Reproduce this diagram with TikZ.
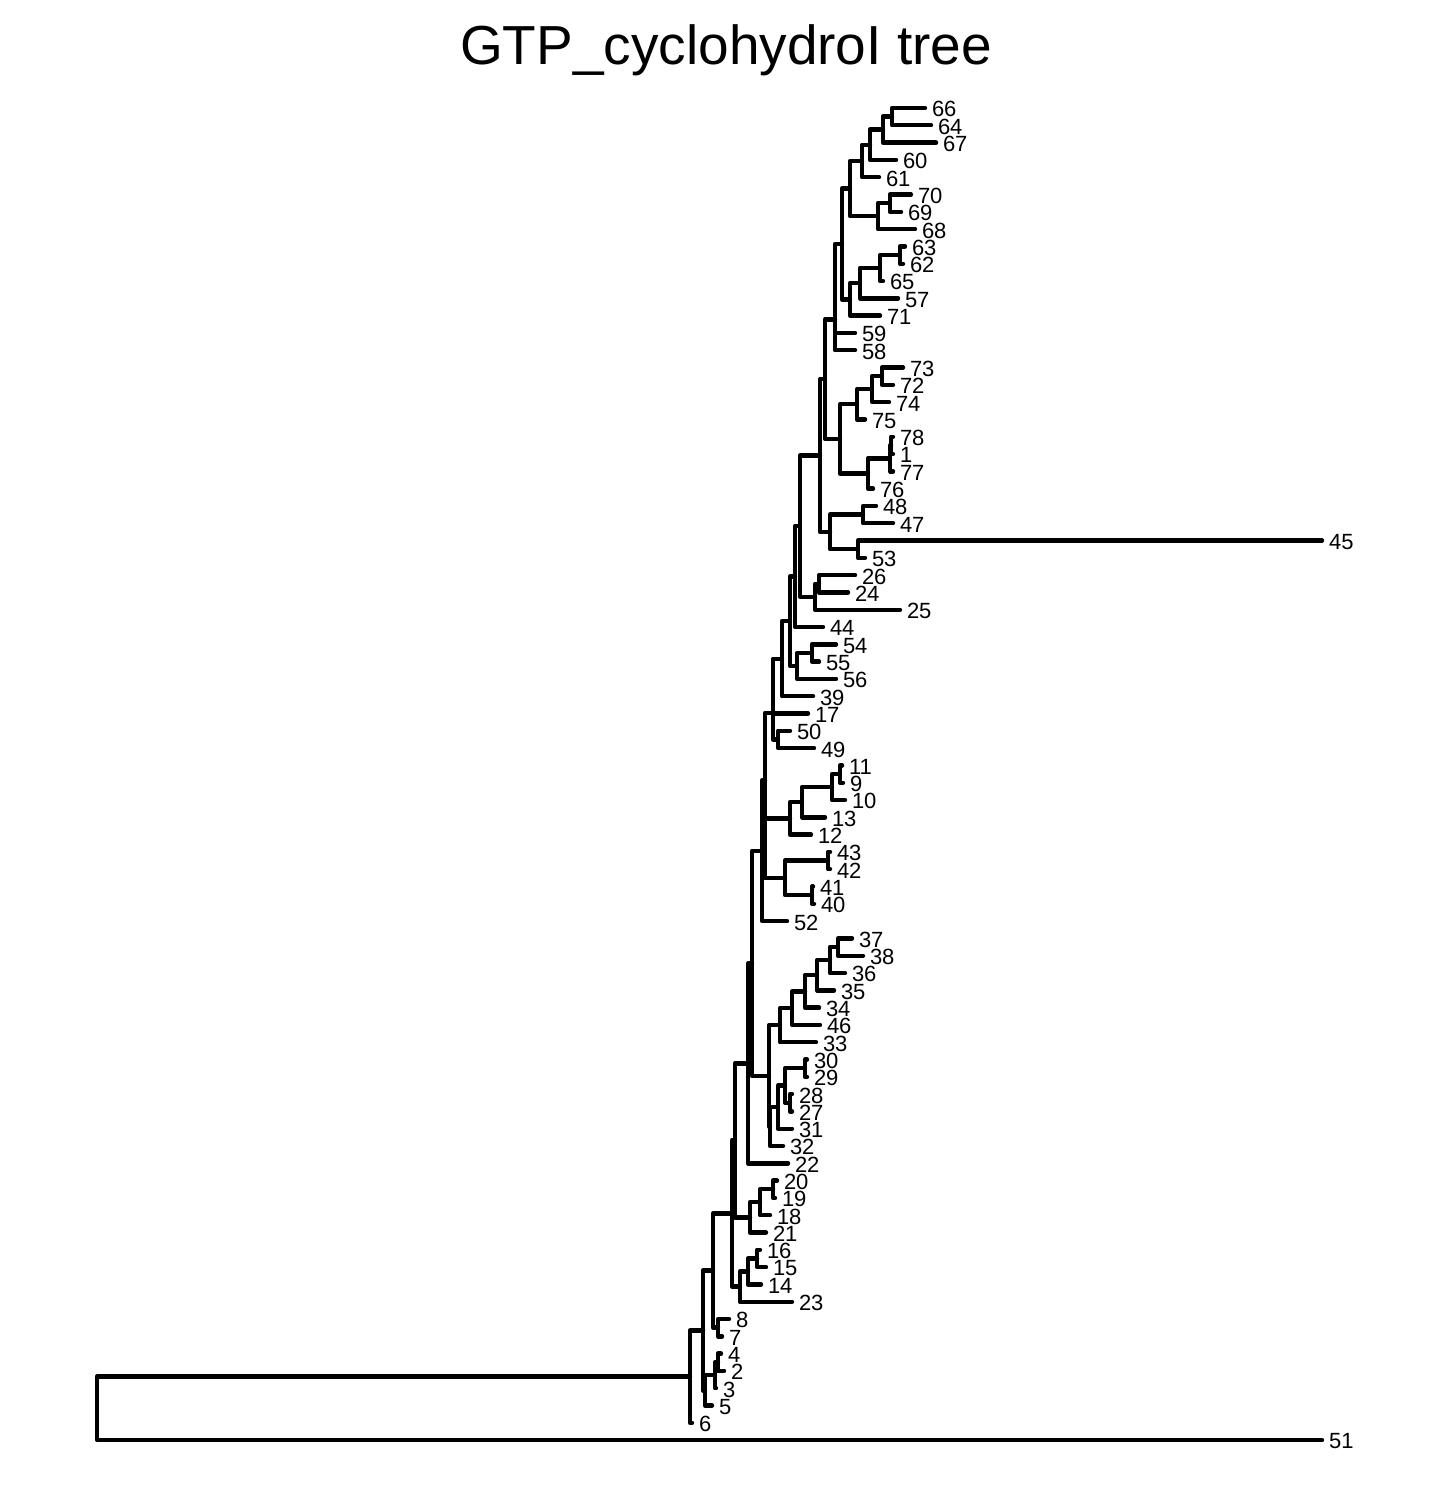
\documentclass[tikz,border=0pt]{standalone}
\usepackage{fontspec}
\setmainfont{Liberation Sans}
\begin{document}
\begin{tikzpicture}[x=0.5pt,y=-0.5pt,
  br/.style={line width=2.2pt,line cap=round,line join=round},
  lab/.style={anchor=west,inner sep=0pt,xshift=3.3pt,yshift=-0.7pt,font=\fontsize{11}{13}\selectfont},
  ttl/.style={anchor=base,inner sep=0pt,font=\fontsize{27.5}{33}\selectfont}]
\useasboundingbox (0,0) rectangle (1441,1487);
\node[ttl] (title) at (726,65) {GTP\_cyclohydroI tree};
% tips: label / tip x / index
\foreach \n/\x/\i in {66/925/0,64/931/1,67/936/2,60/896/3,61/879/4,70/911/5,69/901/6,68/915/7,
  63/905/8,62/903/9,65/883/10,57/898/11,71/880/12,59/855/13,58/855/14,73/903/15,72/893/16,
  74/889/17,75/865/18,78/893/19,1/893/20,77/893/21,76/873/22,48/876/23,47/893/24,45/1322/25,
  53/865/26,26/855/27,24/848/28,25/900/29,44/823/30,54/836/31,55/819/32,56/836/33,39/813/34,
  17/808/35,50/790/36,49/814/37,11/842/38,9/843/39,10/845/40,13/825/41,12/811/42,43/830/43,
  42/830/44,41/813/45,40/814/46,52/787/47,37/852/48,38/863/49,36/845/50,35/834/51,34/819/52,
  46/820/53,33/816/54,30/807/55,29/807/56,28/792/57,27/792/58,31/792/59,32/783/60,22/788/61,
  20/777/62,19/775/63,18/770/64,21/766/65,16/760/66,15/766/67,14/761/68,23/792/69,8/729/70,
  7/722/71,4/721/72,2/724/73,3/716/74,5/712/75,6/692/76,51/1322/77}{
  \coordinate (t\n) at (\x,{108+17.3*\i});
  \node[lab] (l\n) at (t\n) {\n};
}
% internal nodes
\foreach \n/\x/\y in {a1/892/116.65,a2/883/129.6,a3/870/144.75,a4/862/161.0,b1/890/203.15,
  b2/878/216.1,a5/850/188.55,c1/900/255.05,c2/880/268.0,c3/860/283.15,c4/850/299.4,
  a6/842/244.0,a7/835/288.45,a8/835/319.3,d1/882/376.15,d2/872/389.1,d3/857/404.25,
  e1/891/445.35,e2/890/458.3,e3/868/473.45,f1/840/438.85,a9/825/379.1,g1/863/514.55,
  g2/858/549.15,g3/830/531.85,a10/820/455.5,h1/819/583.75,h2/815/596.7,a11/800/526.1,
  a12/795/576.55,i1/812/652.95,i2/797/665.9,a13/790/621.2,a14/782/658.7,a15/773/686.1,
  j1/778/739.45,a16/773/712.8,k1/840/774.05,k2/832/787.0,k3/802/802.15,k4/790/818.4,
  l1/828/860.55,l2/812/895.15,l3/785/877.85,m1/765/848.1,a17/765/780.45,a18/762/850.8,
  o1/838/947.05,o2/830/960.0,o3/817/975.15,o4/805/991.4,o5/792/1008.15,o6/780/1025.2,
  p1/805/1068.15,p2/790/1102.75,p3/785/1085.45,p4/778/1107.1,p5/770/1126.55,q1/769/1075.9,
  a19/752/963.35,a20/748/1063.3,r1/773/1189.25,r2/760/1202.2,r3/750/1217.35,s1/757/1258.45,
  s2/748/1271.4,s3/740/1286.55,a21/735/1140.3,a22/732/1213.4,v1/718/1327.65,a23/713/1270.5,
  u1/718/1362.25,u2/715/1375.2,u3/705/1390.35,a24/703/1330.4,a25/690/1376.6,root/97/1408.35}{
  \coordinate (\n) at (\x,\y);
}
% branches
\foreach \p/\c in {a1/t66,a1/t64,a2/a1,a2/t67,a3/a2,a3/t60,a4/a3,a4/t61,b1/t70,b1/t69,b2/b1,
  b2/t68,a5/a4,a5/b2,c1/t63,c1/t62,c2/c1,c2/t65,c3/c2,c3/t57,c4/c3,c4/t71,a6/a5,a6/c4,a7/a6,
  a7/t59,a8/a7,a8/t58,d1/t73,d1/t72,d2/d1,d2/t74,d3/d2,d3/t75,e1/t78,e1/t1,e2/e1,e2/t77,
  e3/e2,e3/t76,f1/d3,f1/e3,a9/a8,a9/f1,g1/t48,g1/t47,g2/t45,g2/t53,g3/g1,g3/g2,a10/a9,
  a10/g3,h1/t26,h1/t24,h2/h1,h2/t25,a11/a10,a11/h2,a12/a11,a12/t44,i1/t54,i1/t55,i2/i1,
  i2/t56,a13/a12,a13/i2,a14/a13,a14/t39,a15/a14,a15/t17,j1/t50,j1/t49,a16/a15,a16/j1,
  k1/t11,k1/t9,k2/k1,k2/t10,k3/k2,k3/t13,k4/k3,k4/t12,l1/t43,l1/t42,l2/t41,l2/t40,l3/l1,
  l3/l2,m1/k4,m1/l3,a17/a16,a17/m1,a18/a17,a18/t52,o1/t37,o1/t38,o2/o1,o2/t36,o3/o2,
  o3/t35,o4/o3,o4/t34,o5/o4,o5/t46,o6/o5,o6/t33,p1/t30,p1/t29,p2/t28,p2/t27,p3/p1,p3/p2,
  p4/p3,p4/t31,p5/p4,p5/t32,q1/o6,q1/p5,a19/a18,a19/q1,a20/a19,a20/t22,r1/t20,r1/t19,
  r2/r1,r2/t18,r3/r2,r3/t21,s1/t16,s1/t15,s2/s1,s2/t14,s3/s2,s3/t23,a21/a20,a21/r3,
  a22/a21,a22/s3,v1/t8,v1/t7,a23/a22,a23/v1,u1/t4,u1/t2,u2/u1,u2/t3,u3/u2,u3/t5,a24/a23,
  a24/u3,a25/a24,a25/t6,root/a25,root/t51}{
  \draw[br] (\p) |- (\c);
}
\end{tikzpicture}
\end{document}
